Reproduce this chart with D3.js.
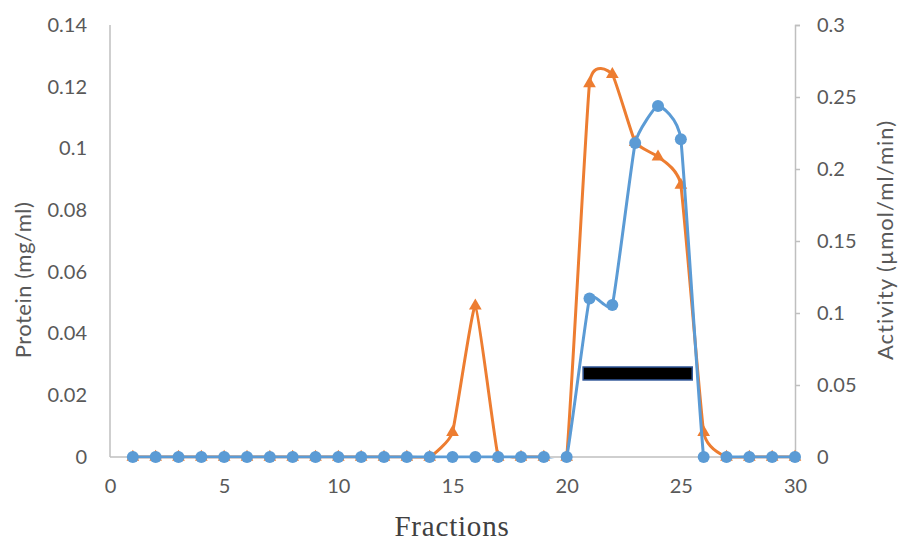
<!DOCTYPE html>
<html>
<head>
<meta charset="utf-8">
<script src="https://cdn.jsdelivr.net/npm/d3@7"></script>
<style>
  body { margin: 0; background: #fff; }
  svg { display: block; }
</style>
</head>
<body>
<svg width="901" height="541"></svg>
<script>
// fractions 1..30
const fractions = d3.range(1, 31);
// orange triangles, left axis (mg/ml)
const protein = [0,0,0,0,0,0,0,0,0,0,0,0,0,0,0.008,0.049,0,0,0,0,0.121,0.124,0.102,0.0973,0.0881,0.008,0,0,0,0];
// blue circles, right axis (umol/ml/min)
const activity = [0,0,0,0,0,0,0,0,0,0,0,0,0,0,0,0,0,0,0,0,0.110,0.1056,0.218,0.2437,0.2206,0,0,0,0,0];
const xTicks = [0, 5, 10, 15, 20, 25, 30];
const leftTicks = [0, 0.02, 0.04, 0.06, 0.08, 0.1, 0.12, 0.14];
const rightTicks = [0, 0.05, 0.1, 0.15, 0.2, 0.25, 0.3];
// pooled fractions bar (x from, x to) at activity level (bottom, top)
const poolRange = [20.72, 25.5];
const poolLevel = [0.0535, 0.0625];

const svg = d3.select('svg');
const plotL = 110, plotR = 795, plotT = 25, plotB = 457;

const x = d3.scaleLinear().domain([0, 30]).range([plotL, plotR]);
const yL = d3.scaleLinear().domain([0, 0.14]).range([plotB, plotT]);
const yR = d3.scaleLinear().domain([0, 0.3]).range([plotB, plotT]);

const labelFont = 'Lato, "Open Sans", sans-serif';
const gray = '#595959';
const axisGray = '#bfbfbf';

// axis lines
svg.append('line').attr('x1', plotL).attr('x2', plotL).attr('y1', plotT).attr('y2', plotB)
  .attr('stroke', axisGray).attr('stroke-width', 1.5);
svg.append('line').attr('x1', plotL).attr('x2', plotR).attr('y1', plotB).attr('y2', plotB)
  .attr('stroke', axisGray).attr('stroke-width', 1.5);

// right axis with outward ticks
const rAxis = svg.append('g').attr('transform', `translate(${plotR},0)`)
  .call(d3.axisRight(yR).tickValues(rightTicks).tickSize(5).tickPadding(17)
    .tickFormat(d => d3.format('~g')(d)));
rAxis.select('.domain').attr('stroke', axisGray).attr('stroke-width', 1.5);
rAxis.selectAll('.tick line').attr('stroke', axisGray).attr('stroke-width', 1.5);
rAxis.selectAll('text').attr('fill', gray).attr('font-family', labelFont).attr('font-size', 20);

// left axis, labels only
const lAxis = svg.append('g').attr('transform', `translate(${plotL},0)`)
  .call(d3.axisLeft(yL).tickValues(leftTicks).tickSize(0).tickPadding(23)
    .tickFormat(d => d3.format('~g')(d)));
lAxis.select('.domain').remove();
lAxis.selectAll('text').attr('fill', gray).attr('font-family', labelFont).attr('font-size', 20);

// bottom axis, labels only
const bAxis = svg.append('g').attr('transform', `translate(0,${plotB})`)
  .call(d3.axisBottom(x).tickValues(xTicks).tickSize(0).tickPadding(22));
bAxis.select('.domain').remove();
bAxis.selectAll('text').attr('fill', gray).attr('font-family', labelFont).attr('font-size', 20);

// titles
svg.append('text').attr('transform', `translate(31,280) rotate(-90)`)
  .attr('text-anchor', 'middle').attr('fill', gray).attr('font-family', labelFont).attr('font-size', 22)
  .attr('letter-spacing', 0.5)
  .text('Protein (mg/ml)');
svg.append('text').attr('transform', `translate(893,240) rotate(-90)`)
  .attr('text-anchor', 'middle').attr('fill', gray).attr('font-family', labelFont).attr('font-size', 22)
  .attr('letter-spacing', 1)
  .text('Activity (µmol/ml/min)');
svg.append('text').attr('x', 452).attr('y', 536)
  .attr('text-anchor', 'middle').attr('fill', '#404040').attr('font-family', '"Liberation Serif", serif').attr('font-size', 29)
  .attr('letter-spacing', 0.8)
  .text('Fractions');

// clip lines at the baseline so smoothing doesn't dip under 0
svg.append('clipPath').attr('id', 'plotclip')
  .append('rect').attr('x', 0).attr('y', 0).attr('width', 901).attr('height', plotB + 1.5);

const curve = d3.curveCardinal.tension(0.62);
const proteinLine = d3.line().x((d, i) => x(fractions[i])).y(d => yL(d)).curve(curve);
const activityLine = d3.line().x((d, i) => x(fractions[i])).y(d => yR(d)).curve(curve);

svg.append('path').attr('d', proteinLine(protein)).attr('clip-path', 'url(#plotclip)')
  .attr('fill', 'none').attr('stroke', '#ED7D31').attr('stroke-width', 3);
svg.append('g').selectAll('path').data(protein).enter().append('path')
  .attr('d', d3.symbol().type(d3.symbolTriangle).size(70))
  .attr('transform', (d, i) => `translate(${x(fractions[i])},${yL(d)})`)
  .attr('fill', '#ED7D31');

svg.append('path').attr('d', activityLine(activity)).attr('clip-path', 'url(#plotclip)')
  .attr('fill', 'none').attr('stroke', '#5B9BD5').attr('stroke-width', 3);
svg.append('g').selectAll('circle').data(activity).enter().append('circle')
  .attr('cx', (d, i) => x(fractions[i]))
  .attr('cy', d => yR(d))
  .attr('r', 6)
  .attr('fill', '#5B9BD5');

// pooled fractions bar
svg.append('rect')
  .attr('x', x(poolRange[0])).attr('width', x(poolRange[1]) - x(poolRange[0]))
  .attr('y', yR(poolLevel[1])).attr('height', yR(poolLevel[0]) - yR(poolLevel[1]))
  .attr('fill', '#000').attr('stroke', '#2F5597').attr('stroke-width', 1.5);
</script>
</body>
</html>
